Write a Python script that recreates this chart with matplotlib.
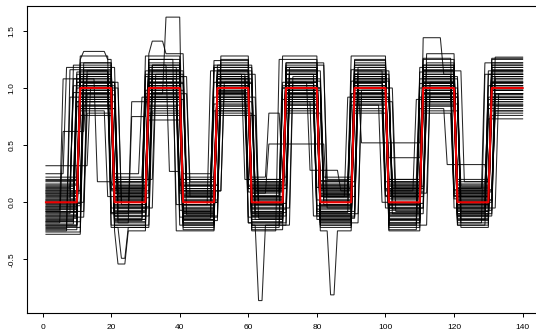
import numpy as np
import matplotlib
matplotlib.use("Agg")
import matplotlib.pyplot as plt

plt.rcParams['font.family'] = ['Liberation Sans', 'DejaVu Sans']

# x positions and the true square-wave signal (red)
x_vals = np.arange(1, 141)
true_levels = [0, 1, 0, 1, 0, 1, 0, 1, 0, 1, 0, 1, 0, 1]

# estimated segment levels of each black series (14 segments each)
levels = [
    [-0.05, 1.02, 0.08, 0.95, -0.12, 1.10, 0.03, 0.92, -0.08, 1.05, 0.12, 0.98, -0.03, 1.08],
    [0.12, 0.88, -0.15, 1.08, 0.05, 0.97, -0.18, 1.12, 0.07, 0.90, -0.05, 1.15, 0.10, 0.85],
    [-0.18, 1.12, 0.02, 0.90, 0.15, 1.05, -0.08, 0.85, 0.18, 1.00, -0.20, 0.92, 0.05, 1.20],
    [0.05, 0.95, -0.22, 1.20, -0.05, 0.88, 0.10, 1.05, -0.15, 1.12, 0.04, 1.02, -0.12, 0.95],
    [-0.10, 1.20, 0.18, 1.02, -0.20, 1.15, 0.00, 0.98, -0.02, 0.85, 0.15, 1.10, 0.08, 1.02],
    [0.20, 0.82, -0.08, 0.92, 0.10, 1.02, -0.12, 1.18, 0.10, 1.08, -0.10, 0.88, -0.18, 1.12],
    [-0.22, 1.05, 0.05, 1.12, -0.02, 0.80, 0.15, 0.95, -0.20, 0.95, 0.08, 1.05, 0.15, 0.90],
    [0.00, 0.98, -0.05, 1.00, 0.20, 1.08, -0.22, 1.02, 0.05, 1.18, -0.15, 0.95, -0.08, 1.25],
    [-0.15, 1.08, 0.12, 0.85, -0.15, 1.20, 0.05, 0.88, -0.12, 1.02, 0.20, 1.08, 0.02, 0.80],
    [0.08, 0.90, -0.18, 1.15, 0.08, 0.95, -0.05, 1.10, 0.15, 0.92, -0.02, 1.20, -0.15, 1.05],
    [-0.08, 1.15, 0.22, 0.98, -0.10, 1.12, 0.20, 0.82, -0.05, 1.10, 0.05, 0.85, 0.12, 0.98],
    [0.15, 1.00, -0.02, 1.05, 0.02, 0.85, -0.15, 1.08, 0.02, 1.25, -0.12, 1.12, -0.05, 1.15],
    [-0.25, 0.92, 0.10, 1.25, -0.25, 1.02, 0.08, 1.00, -0.18, 0.98, 0.18, 0.98, 0.20, 0.88],
    [-0.02, 1.10, -0.10, 0.88, 0.12, 1.18, -0.02, 1.15, 0.12, 0.88, -0.08, 1.02, -0.10, 1.10],
    [0.10, 0.85, 0.15, 1.10, -0.08, 0.90, 0.18, 0.92, -0.10, 1.05, 0.10, 0.90, 0.00, 0.92],
    [-0.12, 1.25, -0.20, 0.95, 0.18, 1.08, -0.20, 1.05, 0.08, 0.95, -0.18, 1.15, 0.18, 1.02],
    [0.02, 1.05, 0.00, 1.18, -0.18, 0.98, 0.12, 0.90, -0.22, 1.15, 0.02, 0.95, -0.20, 0.73],
    [-0.20, 0.95, 0.25, 0.92, 0.00, 1.25, -0.10, 1.20, 0.20, 1.02, -0.25, 1.08, 0.05, 1.18],
    [0.25, 1.18, -0.12, 1.02, -0.12, 0.92, 0.00, 0.98, -0.08, 0.90, 0.12, 1.25, -0.02, 1.05],
    [-0.06, 0.80, 0.05, 1.30, 0.22, 1.00, -0.25, 1.25, 0.00, 1.20, -0.05, 0.92, 0.10, 0.95],
    [-0.28, 1.02, -0.25, 0.90, -0.02, 1.15, 0.05, 0.95, 0.12, 0.98, 0.08, 1.00, -0.15, 1.12],
    [0.18, 1.12, 0.08, 1.08, 0.08, 0.88, 0.22, 1.08, -0.15, 1.08, -0.12, 1.18, 0.08, 0.85],
    [-0.14, 0.98, -0.05, 0.98, -0.22, 1.05, -0.08, 0.85, 0.05, 0.92, 0.15, 0.88, -0.05, 1.00],
    [0.04, 1.08, 0.18, 1.15, 0.15, 1.22, 0.10, 1.12, -0.25, 1.12, -0.20, 1.05, 0.12, 1.22],
    [-0.09, 0.90, -0.15, 0.72, -0.05, 0.95, -0.18, 1.00, 0.18, 0.85, 0.00, 0.95, -0.12, 0.90],
    [0.32, 1.00, 0.02, 1.05, 0.05, 1.10, 0.15, 1.18, -0.03, 1.05, 0.20, 1.12, 0.02, 1.08],
    [-0.17, 1.15, 0.12, 1.22, -0.15, 0.82, -0.12, 0.92, 0.10, 1.22, -0.15, 0.82, 0.15, 0.98],
    [-0.04, 1.22, -0.08, 0.95, 0.10, 1.05, 0.02, 1.02, -0.12, 0.95, 0.05, 1.10, -0.08, 1.15],
    [0.07, 0.88, 0.20, 1.12, -0.10, 1.15, -0.15, 0.88, 0.15, 1.00, -0.10, 1.02, 0.00, 0.82],
    [-0.20, 1.05, -0.18, 1.00, 0.25, 0.92, 0.08, 1.10, -0.05, 1.10, 0.10, 0.92, -0.18, 1.05],
    [0.00, 0.95, 0.05, 0.92, -0.20, 1.02, -0.05, 1.22, 0.05, 0.88, -0.05, 1.22, 0.05, 1.10],
    [-0.11, 1.10, -0.10, 1.10, 0.05, 1.12, 0.20, 0.95, -0.18, 1.15, 0.18, 1.05, -0.05, 0.95],
    [0.13, 1.02, 0.15, 1.02, -0.12, 0.98, -0.20, 1.05, 0.08, 1.05, -0.08, 0.98, 0.10, 1.20],
    [-0.24, 0.85, -0.02, 0.88, 0.20, 1.08, 0.10, 0.98, -0.10, 0.92, 0.02, 1.15, -0.10, 0.88],
    [-0.01, 1.12, 0.10, 1.15, 0.00, 0.90, -0.10, 1.15, 0.22, 1.18, -0.22, 0.90, 0.08, 1.02],
    [0.09, 0.92, -0.22, 1.05, -0.08, 1.18, 0.05, 0.90, -0.02, 1.00, 0.12, 1.08, -0.22, 1.12],
    [-0.16, 1.05, 0.00, 0.98, 0.12, 1.05, -0.12, 1.05, 0.10, 0.95, -0.02, 1.02, 0.18, 0.92],
    [0.22, 1.00, -0.12, 1.20, -0.18, 0.95, 0.12, 0.95, -0.08, 1.12, 0.08, 0.95, 0.00, 1.27],
    [-0.07, 1.08, 0.08, 0.92, 0.02, 1.02, -0.02, 1.12, 0.02, 1.02, -0.18, 1.10, -0.02, 0.95],
    [0.03, 1.15, -0.05, 1.08, -0.02, 1.12, 0.00, 1.00, -0.12, 1.08, 0.05, 1.00, 0.05, 0.76],
    [-0.13, 0.78, 0.03, 1.18, -0.07, 0.78, 0.17, 1.08, -0.16, 0.80, 0.06, 1.18, -0.14, 0.98],
    [0.16, 1.28, -0.20, 0.80, 0.14, 1.00, -0.03, 0.78, 0.09, 1.28, -0.16, 0.86, 0.14, 1.15],
    [-0.19, 1.00, 0.13, 1.05, -0.16, 1.28, 0.06, 1.28, -0.04, 0.82, 0.14, 1.30, -0.06, 0.86],
    [0.01, 0.76, -0.14, 1.12, 0.09, 0.96, -0.24, 0.80, 0.13, 1.06, -0.06, 0.78, 0.03, 1.04],
    [-0.03, 1.18, 0.07, 0.78, -0.24, 1.08, 0.14, 1.02, -0.14, 1.14, 0.16, 1.04, -0.20, 1.18],
    [0.11, 0.96, -0.07, 1.25, 0.17, 0.86, -0.09, 1.14, 0.16, 0.96, -0.24, 1.14, 0.09, 0.78],
    [-0.21, 1.12, 0.20, 0.96, -0.03, 1.14, 0.18, 0.96, -0.20, 1.04, 0.10, 0.96, -0.12, 1.12],
    [0.06, 1.02, -0.09, 1.14, 0.07, 0.76, -0.14, 1.06, 0.04, 0.86, -0.09, 1.06, 0.16, 0.92],
    [-0.26, 0.88, 0.17, 0.84, -0.13, 1.06, 0.02, 0.82, -0.09, 1.16, 0.03, 0.80, -0.01, 1.22],
    [0.14, 1.14, -0.03, 1.28, 0.04, 1.16, -0.06, 1.18, 0.11, 1.00, -0.14, 1.16, 0.07, 0.98],
    [-0.12, 0.94, 0.09, 0.76, -0.09, 0.94, 0.11, 0.88, -0.06, 0.78, 0.09, 0.92, -0.16, 1.06],
    [0.02, 1.06, -0.17, 1.04, 0.12, 1.24, -0.17, 1.22, 0.14, 1.10, -0.03, 1.26, 0.11, 0.84],
    [-0.17, 0.84, 0.04, 0.94, -0.19, 1.00, 0.09, 0.94, -0.17, 0.92, 0.13, 0.84, -0.04, 1.14],
    [0.08, 1.22, 0.14, 1.16, 0.01, 0.84, -0.20, 1.00, 0.07, 1.20, -0.19, 1.04, 0.04, 1.00],
    [-0.08, 1.00, -0.12, 0.82, 0.15, 1.12, 0.04, 1.16, -0.11, 0.94, 0.07, 1.10, -0.09, 0.90],
    [0.19, 0.92, 0.11, 1.08, -0.06, 1.04, -0.11, 0.86, 0.19, 1.06, -0.11, 0.88, 0.13, 1.16],
    [-0.23, 1.16, -0.04, 1.00, 0.06, 0.80, 0.13, 1.04, -0.03, 0.90, 0.17, 1.20, -0.11, 0.80],
    [-0.04, 0.82, 0.06, 1.20, -0.14, 1.20, -0.01, 0.92, 0.06, 1.24, -0.07, 0.94, 0.06, 1.26],
    [0.10, 1.04, -0.16, 0.90, 0.10, 0.92, 0.16, 1.12, -0.13, 0.98, 0.11, 1.12, -0.07, 0.94],
    [-0.06, 0.98, 0.01, 1.10, -0.11, 1.10, -0.13, 0.98, 0.01, 1.12, -0.01, 1.00, 0.01, 1.10],
]

# shift (in x units) of each of the 13 change points from the nominal 10, 20, ..., 130
shifts = [
    [0, 0, -1, 0, 1, 0, 0, -1, 0, 0, 1, 0, 0],
    [-1, 1, 0, 0, 0, -1, 1, 0, 0, -1, 0, 0, -1],
    [1, 0, 0, 1, -1, 0, 0, 0, 1, 0, -1, 1, 0],
    [0, -1, 1, 0, 0, 1, -1, 0, 0, 1, 0, 0, 1],
    [-2, 0, 0, -1, 0, 0, 0, 1, -1, 0, 0, -1, 0],
    [0, 1, -1, 0, 2, 0, 0, 0, 0, 0, 1, 0, -2],
    [1, 0, 0, 0, -1, -1, 1, 0, 0, 1, 0, 0, 0],
    [0, 0, 2, -1, 0, 0, -1, 0, 1, 0, 0, 1, 0],
    [-1, -1, 0, 0, 0, 1, 0, -2, 0, 0, -1, 0, 1],
    [0, 0, 0, 1, 0, 0, 2, 0, -1, 0, 0, 0, 0],
    [2, 0, -1, 0, 0, -2, 0, 0, 0, -1, 1, 0, 0],
    [0, 2, 0, 0, 1, 0, 0, 1, 0, 0, 0, -1, -1],
    [-3, 0, 0, -2, 0, 0, -1, 0, 2, 0, 0, 0, 0],
    [0, -1, 0, 0, -1, 1, 0, 0, 0, 2, 0, 0, 1],
    [1, 0, 1, 0, 0, 0, 0, -1, 0, 0, -2, 0, 0],
    [0, 0, 0, 2, 0, 0, 1, 0, -1, 0, 0, 2, 0],
    [-1, 1, 0, 0, 0, -1, 0, 0, 0, 1, 0, 0, -1],
    [0, 0, -2, 0, 1, 0, 0, 2, 0, 0, 0, -1, 0],
    [-4, 0, 0, 0, 0, 2, 0, 0, 1, -1, 0, 0, 0],
    [0, -2, 0, 1, 0, 0, -2, 0, 0, 0, 1, 0, 1],
    [1, 0, 0, 0, -2, 0, 0, 0, 0, 0, 0, 1, -1],
    [-1, 0, 1, -1, 0, 0, 1, -1, 0, 0, -1, 0, 0],
    [0, 1, 0, 0, 0, 1, 0, 0, -2, 1, 0, 0, 0],
    [-2, 0, -1, 0, 1, 0, 0, 0, 0, 0, 2, 0, -2],
    [0, 0, 0, 0, 0, -1, 0, 1, 0, -2, 0, 0, 0],
    [3, 0, 0, 1, 0, 0, 0, 0, 0, 0, 0, 0, 1],
    [1, -1, 0, 0, 0, 0, 1, 0, 0, 0, -1, -2, 0],
    [0, 0, 0, -1, 2, 0, 0, -1, 1, 0, 0, 0, 0],
    [-1, 0, 2, 0, 0, 1, 0, 0, 0, 1, 0, 0, -1],
    [0, 1, 0, 0, -1, 0, -1, 0, 0, 0, 0, 1, 0],
    [2, 0, 0, 0, 0, 0, 0, 2, -1, 0, 1, 0, 0],
    [0, 0, -1, 2, 0, -1, 0, 0, 0, -1, 0, 0, 2],
    [-2, 1, 0, 0, 0, 0, 2, 0, 0, 0, 0, -1, 0],
    [0, 0, 0, -1, 0, 1, 0, 0, 2, 0, -1, 0, 0],
    [1, -1, 1, 0, 1, 0, 0, 1, 0, 0, 0, 0, -1],
    [0, 0, 0, 0, -1, 0, -1, 0, 0, 2, 0, 1, 0],
    [-1, 2, 0, 1, 0, 0, 0, 0, -1, 0, 0, 0, 0],
    [0, 0, 1, 0, 0, -1, 1, 0, 0, 0, 2, 0, 1],
    [-5, 0, 0, 0, 0, 0, 0, -1, 0, 0, 0, 0, 0],
    [0, -1, 0, -2, 0, 2, 0, 0, 0, 1, -1, 0, 0],
    [2, 0, 0, -1, 0, 1, 0, 0, 0, -1, 0, 0, 0],
    [0, -1, 1, 0, 0, 0, 0, 1, -1, 0, 0, 1, 0],
    [-1, 0, 0, 0, 1, 0, -1, 0, 0, 0, 1, 0, -1],
    [0, 0, -1, 1, 0, 0, 0, -1, 0, 1, 0, -1, 0],
    [1, 1, 0, 0, 0, -1, 0, 0, 1, 0, 0, 0, 0],
    [-2, 0, 0, 0, -1, 0, 1, 0, 0, 0, -1, 0, 1],
    [0, 0, 1, 0, 0, 0, 0, 0, 0, -1, 0, 0, 0],
    [0, -1, 0, 0, 0, 2, 0, 1, 0, 0, 0, 0, -1],
    [1, 0, 0, -1, 1, 0, 0, 0, -1, 0, 0, 1, 0],
    [-1, 0, -1, 0, 0, 0, 1, 0, 0, 0, 0, 0, 0],
    [0, 1, 0, 0, 0, 0, 0, -1, 0, 0, 1, 0, 0],
    [0, 0, 0, 1, -1, 0, 0, 0, 1, 0, 0, -1, 1],
    [-1, 0, 1, 0, 0, -1, 0, 0, 0, 1, 0, 0, 0],
    [1, 0, 0, 0, 0, 0, -1, 1, 0, 0, -1, 0, 0],
    [0, 0, 0, -1, 1, 0, 0, 0, 0, 0, 0, 1, -1],
    [0, -1, 0, 0, 0, 1, 0, 0, -1, 0, 0, 0, 0],
    [-3, 0, 1, 0, 0, 0, 0, -1, 0, 1, 0, 0, 0],
    [0, 1, 0, 0, -1, 0, 1, 0, 0, 0, 0, -1, 0],
    [1, 0, -1, 0, 0, 0, 0, 0, 1, -1, 0, 0, 1],
    [0, 0, 0, 1, 0, -1, 0, 0, 0, 0, 1, 0, 0],
]

# local deviations: (series index, first x, last x, level)
deviations = [
    (0, 36, 40, 1.62),
    (19, 32, 35, 1.41),
    (15, 12, 18, 1.32),
    (11, 111, 116, 1.44),
    (20, 22, 24, -0.54),
    (35, 23, 24, -0.49),
    (15, 63, 64, -0.86),
    (23, 84, 85, -0.81),
    (29, 66, 82, 0.51),
    (32, 93, 110, 0.52),
    (33, 101, 110, 0.39),
    (26, 118, 129, 0.33),
    (36, 78, 86, 0.28),
    (9, 26, 30, 0.75),
    (13, 26, 30, 0.88),
    (8, 16, 20, 0.18),
    (2, 6, 12, 0.62),
    (21, 66, 69, 0.78),
    (37, 37, 40, 0.27),
]

fig = plt.figure(figsize=(5.36, 3.32), dpi=100)
ax = fig.add_axes([26.9 / 536, 19.3 / 332, (541.7 - 26.9) / 536, (312.7 - 5.7) / 332])

for i, (lv, sh) in enumerate(zip(levels, shifts)):
    y = np.empty(len(x_vals))
    start = 1
    for k in range(14):
        end = 140 if k == 13 else 10 * (k + 1) + sh[k]
        y[(x_vals >= start) & (x_vals <= end)] = lv[k]
        start = end + 1
    for (si, xa, xb, val) in deviations:
        if si == i:
            y[(x_vals >= xa) & (x_vals <= xb)] = val
    ax.plot(x_vals, y, color='black', lw=0.75, alpha=0.85, solid_joinstyle='miter')

true_y = np.repeat(true_levels, 10)
ax.plot(x_vals, true_y, color='#ee0000', lw=1.5, zorder=5)

ax.set_xlim(-4.56, 145.56)
ax.set_ylim(-0.966, 1.72)
ax.set_xticks([0, 20, 40, 60, 80, 100, 120, 140])
ax.set_yticks([-0.5, 0.0, 0.5, 1.0, 1.5])
ax.set_yticklabels(['-0.5', '0.0', '0.5', '1.0', '1.5'], rotation=90, va='center')
ax.tick_params(axis='both', labelsize=6, length=3, width=0.7, direction='out', pad=5)
for s in ax.spines.values():
    s.set_linewidth(0.8)

fig.savefig('out.png', dpi=100)
